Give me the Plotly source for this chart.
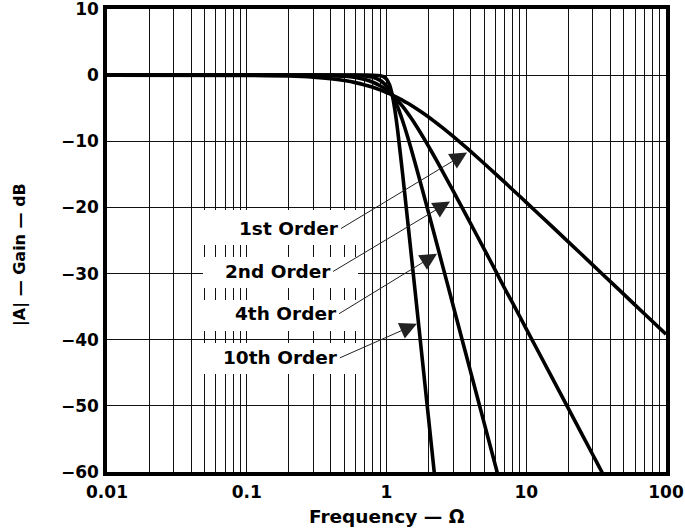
import plotly.graph_objects as go
import math

# ---- data ----
freq_1st = [0.01, 0.1, 0.2, 0.3, 0.4, 0.5, 0.6, 0.7, 0.8, 0.9, 0.95, 1.0, 1.05, 1.1, 1.2, 1.3, 1.4, 1.5, 1.6, 1.8,
            2.0, 2.2, 2.5, 3, 3.5, 4, 5, 6, 7, 8, 10, 15, 20, 30, 35, 50, 70, 100]
gain_1st = [0.0, -0.04, -0.14, -0.31, -0.54, -0.82, -1.13, -1.48, -1.84, -2.23, -2.42, -2.62, -2.81, -3.01, -3.40,
            -3.80, -4.18, -4.56, -4.94, -5.66, -6.34, -6.99, -7.90, -9.26, -10.46, -11.53, -13.36, -14.88, -16.18,
            -17.32, -19.23, -22.72, -25.20, -28.72, -30.06, -33.15, -36.08, -39.17]

freq_2nd = [0.01, 0.1, 0.2, 0.3, 0.4, 0.5, 0.6, 0.7, 0.8, 0.9, 0.95, 1.0, 1.05, 1.1, 1.2, 1.3, 1.4, 1.5, 1.6, 1.8,
            2.0, 2.2, 2.5, 3, 3.5, 4, 5, 6, 7, 8, 10, 15, 20, 30, 35, 50]
gain_2nd = [0.0, 0.0, -0.01, -0.02, -0.08, -0.18, -0.37, -0.66, -1.07, -1.61, -1.92, -2.26, -2.63, -3.01, -3.83,
            -4.70, -5.59, -6.49, -7.39, -9.12, -10.77, -12.30, -14.42, -17.51, -20.15, -22.45, -26.31, -29.48,
            -32.22, -34.47, -38.35, -45.39, -50.39, -57.43, -60.11, -66.30]

freq_4th = [0.01, 0.1, 0.3, 0.5, 0.6, 0.7, 0.8, 0.9, 0.95, 1.0, 1.05, 1.1, 1.2, 1.3, 1.4, 1.5, 1.6, 1.8,
            2.0, 2.2, 2.5, 3, 3.5, 4, 5, 6, 7]
gain_4th = [0.0, 0.0, 0.0, -0.01, -0.03, -0.12, -0.33, -0.80, -1.17, -1.66, -2.28, -3.01, -4.78, -6.82, -8.97,
            -11.13, -13.23, -17.20, -20.81, -24.10, -28.53, -34.86, -40.22, -44.86, -52.61, -58.94, -64.30]

freq_10th = [0.01, 0.1, 0.3, 0.5, 0.7, 0.8, 0.9, 0.95, 1.0, 1.05, 1.1, 1.15, 1.2, 1.3, 1.4, 1.5, 1.6, 1.8,
             2.0, 2.2, 2.5]
gain_10th = [0.0, 0.0, 0.0, 0.0, 0.0, -0.01, -0.08, -0.23, -0.60, -1.44, -3.01, -5.36, -8.26, -14.67, -20.98,
             -26.95, -32.54, -42.78, -51.92, -60.20, -71.32]

labels = ["1st Order", "2nd Order", "4th Order", "10th Order"]
label_freq = [3.77, 2.85, 2.30, 1.65]      # where each arrow points
label_gain = [-11.7, -19.1, -27.0, -37.6]

x_tickvals = [m * d for d in (0.01, 0.1, 1, 10) for m in range(1, 10)] + [100]
x_ticktext = [("%g" % v) if m == 1 else "" for v, m in
              zip(x_tickvals, [m for d in range(4) for m in range(1, 10)] + [1])]
y_tickvals = [10, 0, -10, -20, -30, -40, -50, -60]

# ---- figure ----
fig = go.Figure()
for f, g in [(freq_1st, gain_1st), (freq_2nd, gain_2nd), (freq_4th, gain_4th), (freq_10th, gain_10th)]:
    fig.add_trace(go.Scatter(x=f, y=g, mode="lines",
                             line=dict(color="black", width=3.6, shape="spline", smoothing=0.6),
                             showlegend=False, hoverinfo="skip"))

FONT = "DejaVu Sans"

# white boxes behind the labels (hide grid)
boxes = [(0.4903, 0.5659), (0.3974, 0.4644), (0.3045, 0.3715), (0.2117, 0.2786)]
for y0, y1 in boxes:
    fig.add_shape(type="rect", xref="paper", yref="paper", x0=0.1717, x1=0.4490, y0=y0, y1=y1,
                  fillcolor="white", line=dict(width=0), layer="above")

tails = [(-126, 76), (-117, 70), (-98, 60), (-77, 34)]
for lab, fx, gy, (axp, ayp) in zip(labels, label_freq, label_gain, tails):
    fig.add_annotation(x=math.log10(fx), y=gy, xref="x", yref="y", text=lab, showarrow=True,
                       ax=axp, ay=ayp, xanchor="right", yanchor="middle",
                       arrowhead=2, arrowsize=3.4, arrowwidth=1, arrowcolor="#222", standoff=0,
                       font=dict(family=FONT, size=18.5, color="black", weight="bold"))

fig.add_annotation(x=0.5, y=-0.097, xref="paper", yref="paper", text="Frequency — Ω", showarrow=False,
                   xanchor="center", yanchor="middle",
                   font=dict(family=FONT, size=18.5, color="black", weight="bold"))
fig.add_annotation(x=-0.1556, y=0.4687, xref="paper", yref="paper", text="|A| — Gain — dB", showarrow=False,
                   textangle=-90, xanchor="center", yanchor="middle",
                   font=dict(family=FONT, size=16, color="black", weight="bold"))

fig.update_xaxes(type="log", range=[-2, 2], tickvals=x_tickvals, ticktext=x_ticktext,
                 showgrid=True, gridcolor="#111", gridwidth=1.2,
                 showline=True, mirror=True, linecolor="black", linewidth=3.5,
                 ticks="", ticklabelstandoff=2, zeroline=False, automargin=False,
                 ticklabeloverflow="allow",
                 tickfont=dict(family=FONT, size=17, color="black", weight="bold"))
fig.update_yaxes(range=[-60, 10], tickvals=y_tickvals,
                 showgrid=True, gridcolor="#111", gridwidth=1.2,
                 showline=True, mirror=True, linecolor="black", linewidth=3.5,
                 ticks="", ticklabelstandoff=1, zeroline=False, automargin=False,
                 ticklabeloverflow="allow",
                 tickfont=dict(family=FONT, size=17, color="black", weight="bold"))

fig.update_layout(width=685, height=531, margin=dict(l=107, r=19, t=9, b=59),
                  paper_bgcolor="white", plot_bgcolor="white")

fig.write_html("out.html", config={"displayModeBar": False},
               post_script="document.body.style.margin='0';document.body.style.overflow='hidden';")
